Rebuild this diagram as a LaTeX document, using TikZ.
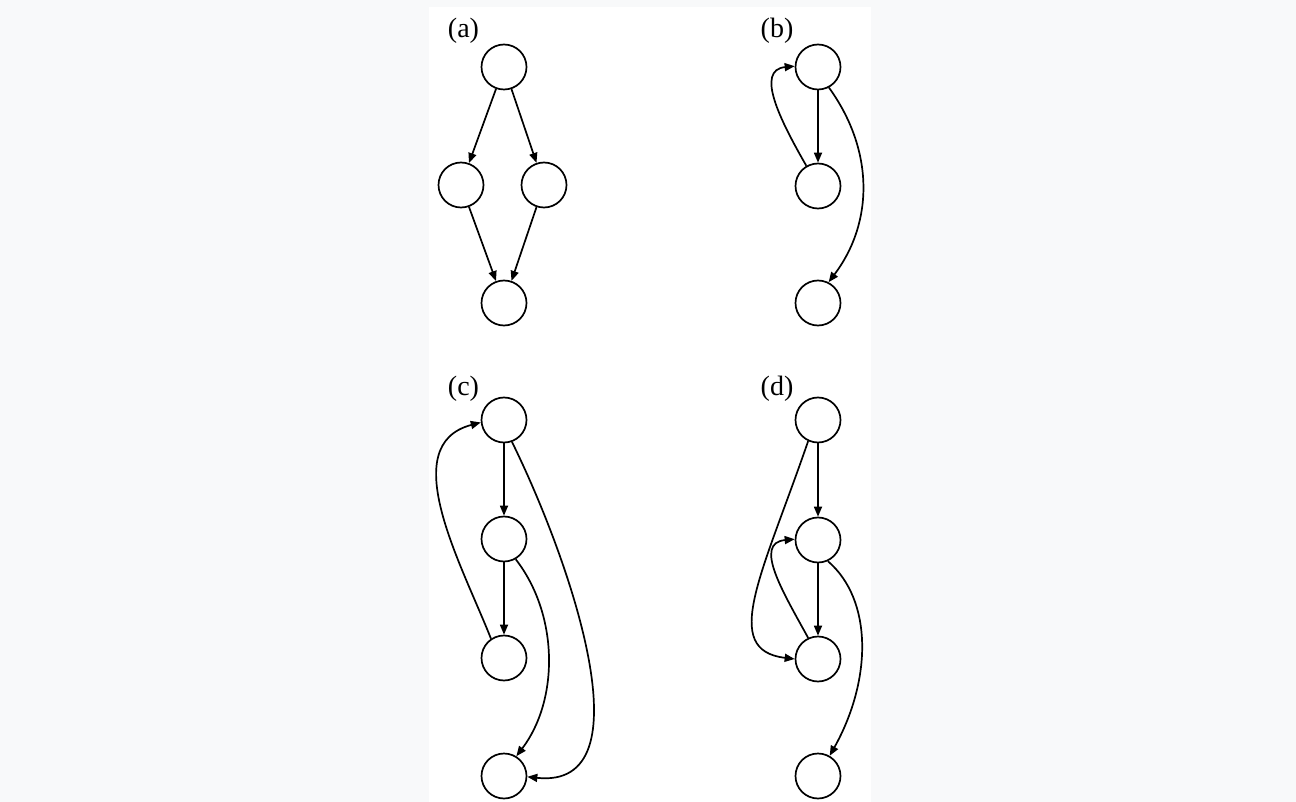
\documentclass[tikz,border=0pt]{standalone}
\usepackage{fontspec}
\setmainfont{Liberation Serif}
\usetikzlibrary{arrows.meta}

\definecolor{pagegray}{HTML}{F8F9FA}

\tikzset{
  vert/.style={circle, draw=black, line width=1.7pt, minimum size=45pt, inner sep=0pt, fill=white},
  edge/.style={draw=black, line width=1.7pt, -{Triangle[length=10pt,width=8pt]}},
  tag/.style={inner sep=0pt, font=\fontsize{28}{32}\selectfont},
}

\begin{document}
\begin{tikzpicture}[x=1pt, y=-1pt]
  % canvas and white panel
  \useasboundingbox (0,0) rectangle (1296,802);
  \fill[pagegray] (0,0) rectangle (1296,802);
  \fill[white] (429,7) rectangle (871,802);

  % ---------- (a) ----------
  \node[tag] (la) at (463.5,30.5) {(a)};
  \node[vert] (a1) at (504,67)  {};
  \node[vert] (a2) at (461,185) {};
  \node[vert] (a3) at (544,185) {};
  \node[vert] (a4) at (504,303) {};
  \draw[edge] (a1) -- (a2);
  \draw[edge] (a1) -- (a3);
  \draw[edge] (a2) -- (a4);
  \draw[edge] (a3) -- (a4);

  % ---------- (b) ----------
  \node[tag] (lb) at (777,30.5) {(b)};
  \node[vert] (b1) at (818,67)  {};
  \node[vert] (b2) at (818,186) {};
  \node[vert] (b3) at (818,303) {};
  \draw[edge] (b1) -- (b2);
  \draw[edge] (b2.120) .. controls (780,120) and (755,70) .. (b1.178);
  \draw[edge] (b1.-62) .. controls (874,150) and (874,222) .. (b3.63);

  % ---------- (c) ----------
  \node[tag] (lc) at (463.5,388.5) {(c)};
  \node[vert] (c1) at (504,420) {};
  \node[vert] (c2) at (504,539) {};
  \node[vert] (c3) at (504,658) {};
  \node[vert] (c4) at (504,776) {};
  \draw[edge] (c1) -- (c2);
  \draw[edge] (c2) -- (c3);
  \draw[edge] (c3.124) .. controls (462,565) and (395,445) .. (c1.186);
  \draw[edge] (c2.-60) .. controls (559,615) and (559,700) .. (c4.58);
  \draw[edge] (c1.-70) .. controls (570,560) and (650,790) .. (c4.-2);

  % ---------- (d) ----------
  \node[tag] (ld) at (777,388.5) {(d)};
  \node[vert] (d1) at (818,420) {};
  \node[vert] (d2) at (818,540) {};
  \node[vert] (d3) at (818,659) {};
  \node[vert] (d4) at (818,776) {};
  \draw[edge] (d1) -- (d2);
  \draw[edge] (d2) -- (d3);
  \draw[edge] (d1.-115) .. controls (762,575) and (720,650) .. (d3.180);
  \draw[edge] (d3.115) .. controls (783,592) and (753,543) .. (d2.178);
  \draw[edge] (d2.-65) .. controls (873,600) and (872,680) .. (d4.60);
\end{tikzpicture}
\end{document}
